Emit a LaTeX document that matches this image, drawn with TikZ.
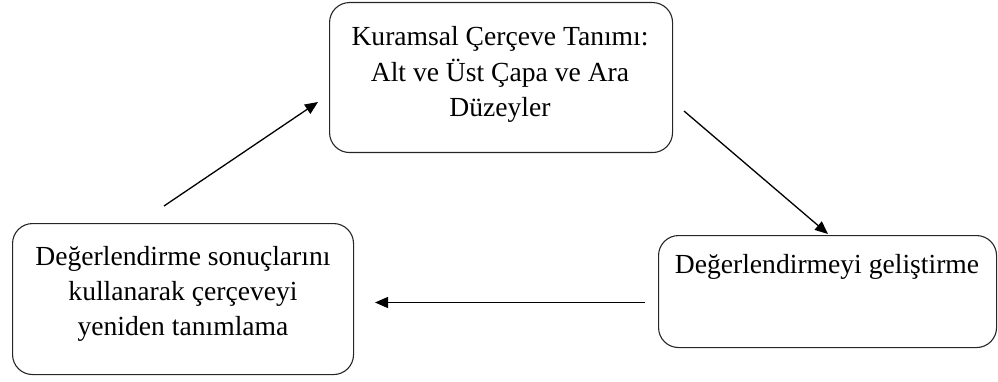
\documentclass[tikz,border=0pt]{standalone}
\usepackage{fontspec}
\setmainfont{Liberation Serif}
\usetikzlibrary{arrows.meta}
\begin{document}
\begin{tikzpicture}[x=1pt,y=-1pt,
  stage/.style={draw=black!85, line width=1.1pt, rounded corners=20pt, anchor=north west},
  stagetext/.style={font=\fontsize{27.6}{35}\selectfont, align=center, inner sep=0pt},
  flow/.style={line width=1.3pt, -{Triangle[length=13pt,width=11pt]}}]
  \useasboundingbox (0,0) rectangle (998,382);

  % the three stages of the cycle
  \node[stage, minimum width=343pt, minimum height=150pt] (frame) at (329,2) {};
  \node[stage, minimum width=341pt, minimum height=151pt] (redefine) at (12,223) {};
  \node[stage, minimum width=338pt, minimum height=112pt] (develop) at (658,235) {};

  \node[stagetext, anchor=base] (frameA) at (500,46) {Kuramsal Çerçeve Tanımı:};
  \node[stagetext, anchor=base] (frameB) at (500,82) {Alt ve Üst Çapa ve Ara};
  \node[stagetext, anchor=base] (frameC) at (500,117) {Düzeyler};

  \node[stagetext, anchor=base] (redefA) at (183,265) {Değerlendirme sonuçlarını};
  \node[stagetext, anchor=base] (redefB) at (183,300) {kullanarak çerçeveyi};
  \node[stagetext, anchor=base] (redefC) at (183,335) {yeniden tanımlama};

  \node[stagetext, anchor=base] (devA) at (827,273) {Değerlendirmeyi geliştirme};

  % connector ends, kept clear of the boxes
  \coordinate (frameOut) at (684,111);
  \coordinate (developIn) at (828,234);
  \coordinate (developOut) at (645,302.5);
  \coordinate (redefineIn) at (375,302.5);
  \coordinate (redefineOut) at (164,206);
  \coordinate (frameIn) at (318,102);

  \draw[flow] (frameOut) -- (developIn);
  \draw[flow] (developOut) -- (redefineIn);
  \draw[flow] (redefineOut) -- (frameIn);
\end{tikzpicture}
\end{document}
